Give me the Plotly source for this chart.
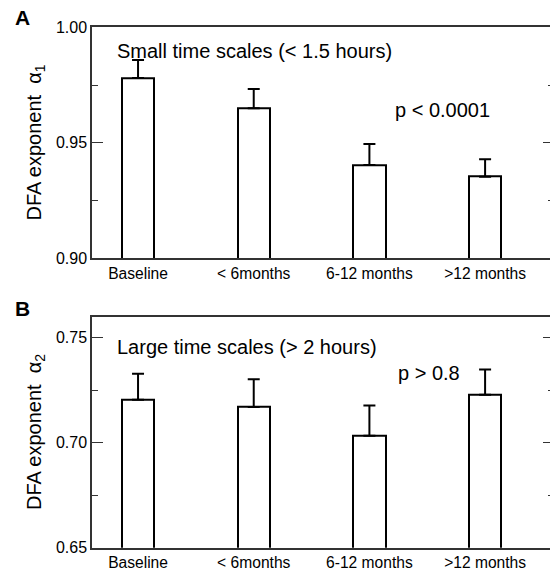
import plotly.graph_objects as go

categories = ["Baseline", "< 6months", "6-12 months", ">12 months"]
alpha1 = [0.978, 0.965, 0.9404, 0.9353]
alpha1_err = [0.0078, 0.0083, 0.0091, 0.0076]
alpha2 = [0.7204, 0.7170, 0.7033, 0.7228]
alpha2_err = [0.0124, 0.0132, 0.0144, 0.0120]
zeros = [0, 0, 0, 0]

FONT = "Liberation Sans, Arial, Helvetica, sans-serif"
W, H = 550, 568
AX = "#333333"

def py(p):
    return 1 - p / H

def px(p):
    return p / W

fig = go.Figure()

def bars(y, err, xa, ya):
    fig.add_trace(go.Bar(
        x=categories, y=y, xaxis=xa, yaxis=ya, width=0.28,
        marker=dict(color="white", line=dict(color="black", width=2)),
        error_y=dict(type="data", array=err, arrayminus=zeros, symmetric=False,
                     color="black", thickness=2, width=6),
        showlegend=False, hoverinfo="skip",
    ))

bars(alpha1, alpha1_err, "x", "y")
bars(alpha2, alpha2_err, "x2", "y2")
# invisible traces to host the right-hand tick axes
fig.add_trace(go.Scatter(x=categories, y=[None]*4, xaxis="x", yaxis="y3",
                         showlegend=False, hoverinfo="skip"))
fig.add_trace(go.Scatter(x=categories, y=[None]*4, xaxis="x2", yaxis="y4",
                         showlegend=False, hoverinfo="skip"))

xdom = [px(92), 1.0]
top_dom = [py(258.3), py(27.3)]
bot_dom = [py(547.7), py(316.7)]
xrange_ = [-0.398, 3.561]

xcommon = dict(type="category", range=xrange_, domain=xdom, showline=True,
               linecolor=AX, linewidth=1.5, mirror=True, ticks="",
               showgrid=False, zeroline=False, automargin=False,
               tickfont=dict(family=FONT, size=15.6, color="black"))

def ycommon(rng, dom, anchor):
    return dict(range=rng, domain=dom, anchor=anchor, dtick=0.05, tickformat=".2f",
                showline=True, linecolor=AX, linewidth=1.5, mirror=False,
                ticks="inside", ticklen=11, tickwidth=1.3, tickcolor=AX,
                minor=dict(dtick=0.025, ticks="inside", ticklen=6, tickwidth=1.3, tickcolor=AX),
                showgrid=False, zeroline=False, automargin=False,
                tickfont=dict(family=FONT, size=16, color="black"))

def yright(rng, overlay):
    return dict(range=rng, overlaying=overlay, side="right", anchor="free", position=1.0,
                dtick=0.05, showticklabels=False, showline=False,
                ticks="inside", ticklen=7, tickwidth=1.3, tickcolor=AX,
                minor=dict(dtick=0.025, ticks="inside", ticklen=2, tickwidth=1.3, tickcolor=AX),
                showgrid=False, zeroline=False)

fig.update_layout(
    width=W, height=H,
    margin=dict(l=0, r=0, t=0, b=0),
    paper_bgcolor="white", plot_bgcolor="white",
    bargap=0,
    xaxis=dict(anchor="y", **xcommon),
    xaxis2=dict(anchor="y2", **xcommon),
    yaxis=ycommon([0.90, 1.00], top_dom, "x"),
    yaxis2=ycommon([0.65, 0.76], bot_dom, "x2"),
    yaxis3=yright([0.90, 1.00], "y"),
    yaxis4=yright([0.65, 0.76], "y2"),
)

ann = [
    dict(text="<b>A</b>", x=px(22), y=py(18), size=21, xanchor="center"),
    dict(text="<b>B</b>", x=px(22), y=py(308), size=21, xanchor="center"),
    dict(text="Small time scales (< 1.5 hours)", x=px(115), y=py(51), size=20, xanchor="left"),
    dict(text="p < 0.0001", x=px(393), y=py(110), size=20, xanchor="left"),
    dict(text="Large time scales (> 2 hours)", x=px(115), y=py(347), size=20, xanchor="left"),
    dict(text="p > 0.8", x=px(396), y=py(373), size=20, xanchor="left"),
]
for a in ann:
    fig.add_annotation(text=a["text"], x=a["x"], y=a["y"], xref="paper", yref="paper",
                       xanchor=a["xanchor"], yanchor="middle", showarrow=False,
                       font=dict(family=FONT, size=a["size"], color="black"))

for txt, yc in [("DFA exponent  α<sub>1</sub>", 142.5), ("DFA exponent  α<sub>2</sub>", 432)]:
    fig.add_annotation(text=txt, x=px(35), y=py(yc), xref="paper", yref="paper",
                       xanchor="center", yanchor="middle", textangle=-90, showarrow=False,
                       font=dict(family=FONT, size=20, color="black"))

fig.write_html("out.html")
